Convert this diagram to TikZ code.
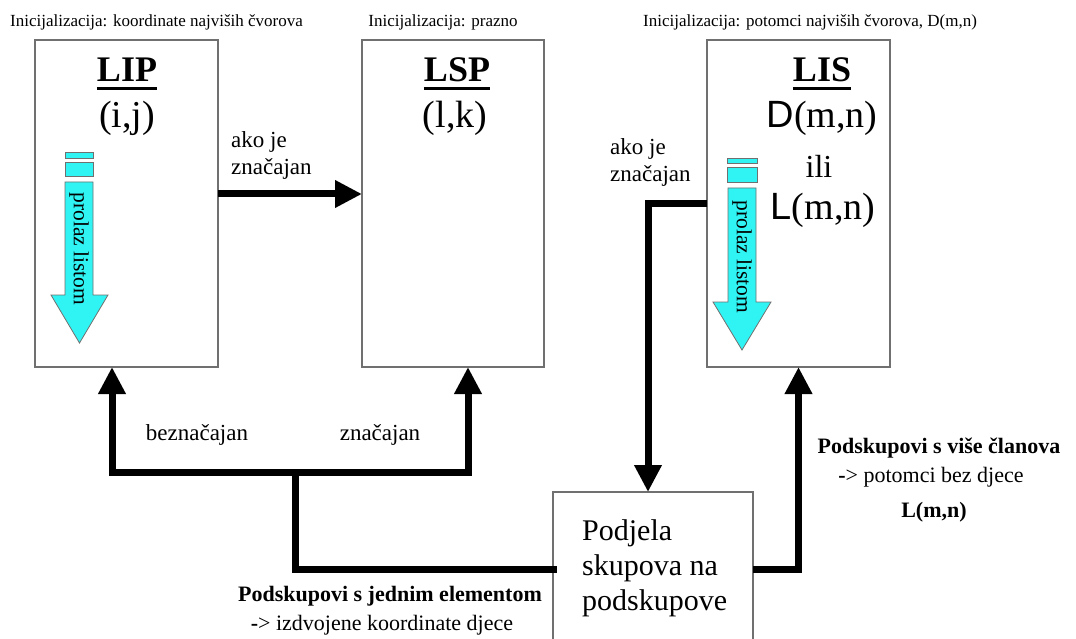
\documentclass[tikz,border=0pt]{standalone}
\usepackage{fontspec}
\setmainfont{Liberation Serif}
\newfontfamily\arialf{Liberation Sans}
\usetikzlibrary{arrows.meta}
\definecolor{aq}{HTML}{30F4F4}
\definecolor{boxgray}{HTML}{707070}
\begin{document}
\begin{tikzpicture}[x=1pt,y=-1pt,
 box/.style={draw=boxgray, line width=1.3pt, fill=white, inner sep=0pt, outer sep=0pt},
 wire/.style={line width=7pt, line cap=rect},
 conn/.style={line width=7pt, line join=miter, -{Triangle[width=26pt,length=27pt]}},
 both/.style={line width=7pt, line join=miter, {Triangle[width=26pt,length=27pt]}-{Triangle[width=26pt,length=27pt]}},
 lbl/.style={inner sep=0pt, font=\fontsize{23}{27}\selectfont},
 ttl/.style={inner sep=0pt, font=\fontsize{17}{20}\selectfont},
 big/.style={inner sep=0pt, font=\fontsize{38}{44}\selectfont},
 head/.style={inner sep=0pt, font=\fontsize{36}{40}\selectfont\bfseries},
 bl/.style={inner sep=0pt, font=\fontsize{22}{26}\selectfont\bfseries},
 pl/.style={inner sep=0pt, font=\fontsize{22}{26}\selectfont},
 cy/.style={fill=aq, draw=boxgray, line width=0.8pt},
 vtxt/.style={inner sep=0pt, rotate=-90, font=\fontsize{21.5}{24}\selectfont},
 ul/.style={line width=3pt}]
\useasboundingbox (0,0) rectangle (1076,639);
\fill[white] (0,0) rectangle (1076,639);
\begin{scope}
\clip (0,0) rectangle (1076,639);
% boxes
\node[box, minimum width=183pt, minimum height=327pt] (lip) at (126.5,203.5) {};
\node[box, minimum width=182pt, minimum height=327pt] (lsp) at (453,203.5) {};
\node[box, minimum width=183pt, minimum height=327pt] (lis) at (798.5,203.5) {};
\node[box, minimum width=200pt, minimum height=160pt] (pod) at (653,572) {};

% titles
\node[ttl, anchor=base west] (t1) at (10,27) {Inicijalizacija: koordinate najviših čvorova};
\node[ttl, anchor=base] (t2) at (443,27) {Inicijalizacija: prazno};
\node[ttl, anchor=base] (t3) at (810,27) {Inicijalizacija: potomci najviših čvorova, D(m,n)};

% LIP content
\node[head, anchor=base] (lipT) at (127,82) {LIP};
\draw[ul] ([yshift=-7pt]lipT.base west) -- ([yshift=-7pt]lipT.base east);
\node[big, anchor=base] (ij) at (127,128) {(i,j)};
\draw[cy] (65,152) rectangle (93,158);
\draw[cy] (65,162) rectangle (93,176);
\draw[cy] (65,182) -- (93,182) -- (93,295) -- (108,295) -- (79.5,343) -- (51,295) -- (65,295) -- cycle;
\node[vtxt] (v1) at (79,249) {prolaz listom};

% LSP content
\node[head, anchor=base] (lspT) at (457,82) {LSP};
\draw[ul] ([yshift=-7pt]lspT.base west) -- ([yshift=-7pt]lspT.base east);
\node[big, anchor=base] (lk) at (455,128) {(l,k)};

% LIS content
\node[head, anchor=base] (lisT) at (822,82) {LIS};
\draw[ul] ([yshift=-7pt]lisT.base west) -- ([yshift=-7pt]lisT.base east);
\node[big, anchor=base] (dmn) at (822,128) {{\arialf D}(m,n)};
\node[inner sep=0pt, font=\fontsize{32}{36}\selectfont, anchor=base] (ili) at (819,178) {ili};
\node[big, anchor=base] (lmn) at (823,220) {{\arialf L}(m,n)};
\draw[cy] (727,158) rectangle (757,163);
\draw[cy] (727,167) rectangle (757,182);
\draw[cy] (728,188) -- (756,188) -- (756,302) -- (771,302) -- (742,350) -- (713,302) -- (728,302) -- cycle;
\node[vtxt] (v2) at (742,257) {prolaz listom};

% Podjela content
\node[inner sep=0pt, font=\fontsize{30}{35}\selectfont, anchor=base west] (pt1) at (582,540) {Podjela};
\node[inner sep=0pt, font=\fontsize{30}{35}\selectfont, anchor=base west] (pt2) at (582,575) {skupova na};
\node[inner sep=0pt, font=\fontsize{30}{35}\selectfont, anchor=base west] (pt3) at (582,610) {podskupove};

% coordinates
\coordinate (y194) at (0,194);
\coordinate (y569) at (0,569);
\coordinate (j) at (295,472);

% connectors
\draw[conn] (lip.east |- y194) -- (lsp.west |- y194);
\draw[conn] (lis.west) -| ([xshift=-5pt]pod.north);
\draw[conn] (pod.east |- y569) -| (lis.south);
\draw[wire] (pod.west |- y569) -| (j);
\draw[both] ([xshift=-14.5pt]lip.south) -- ([xshift=-14.5pt]lip.south |- j) -- ([xshift=15pt]lsp.south |- j) -- ([xshift=15pt]lsp.south);

% labels
\node[lbl, anchor=base west] (a1) at (231,148) {ako je};
\node[lbl, anchor=base west] (a2) at (231,175) {značajan};
\node[lbl, anchor=base west] (b1) at (610,155) {ako je};
\node[lbl, anchor=base west] (b2) at (610,182) {značajan};
\node[lbl, anchor=base] (bez) at (197,440) {beznačajan};
\node[lbl, anchor=base] (zn) at (380,440) {značajan};
\node[bl, anchor=base] (s1) at (390,601) {Podskupovi s jednim elementom};
\node[pl, anchor=base] (s2) at (382,630) {{\bfseries -}> izdvojene koordinate djece};
\node[bl, anchor=base] (r1) at (939,453) {Podskupovi s više članova};
\node[pl, anchor=base] (r2) at (931,482) {{\bfseries -}> potomci bez djece};
\node[bl, anchor=base] (r3) at (934,517) {L(m,n)};
\end{scope}
\end{tikzpicture}
\end{document}
